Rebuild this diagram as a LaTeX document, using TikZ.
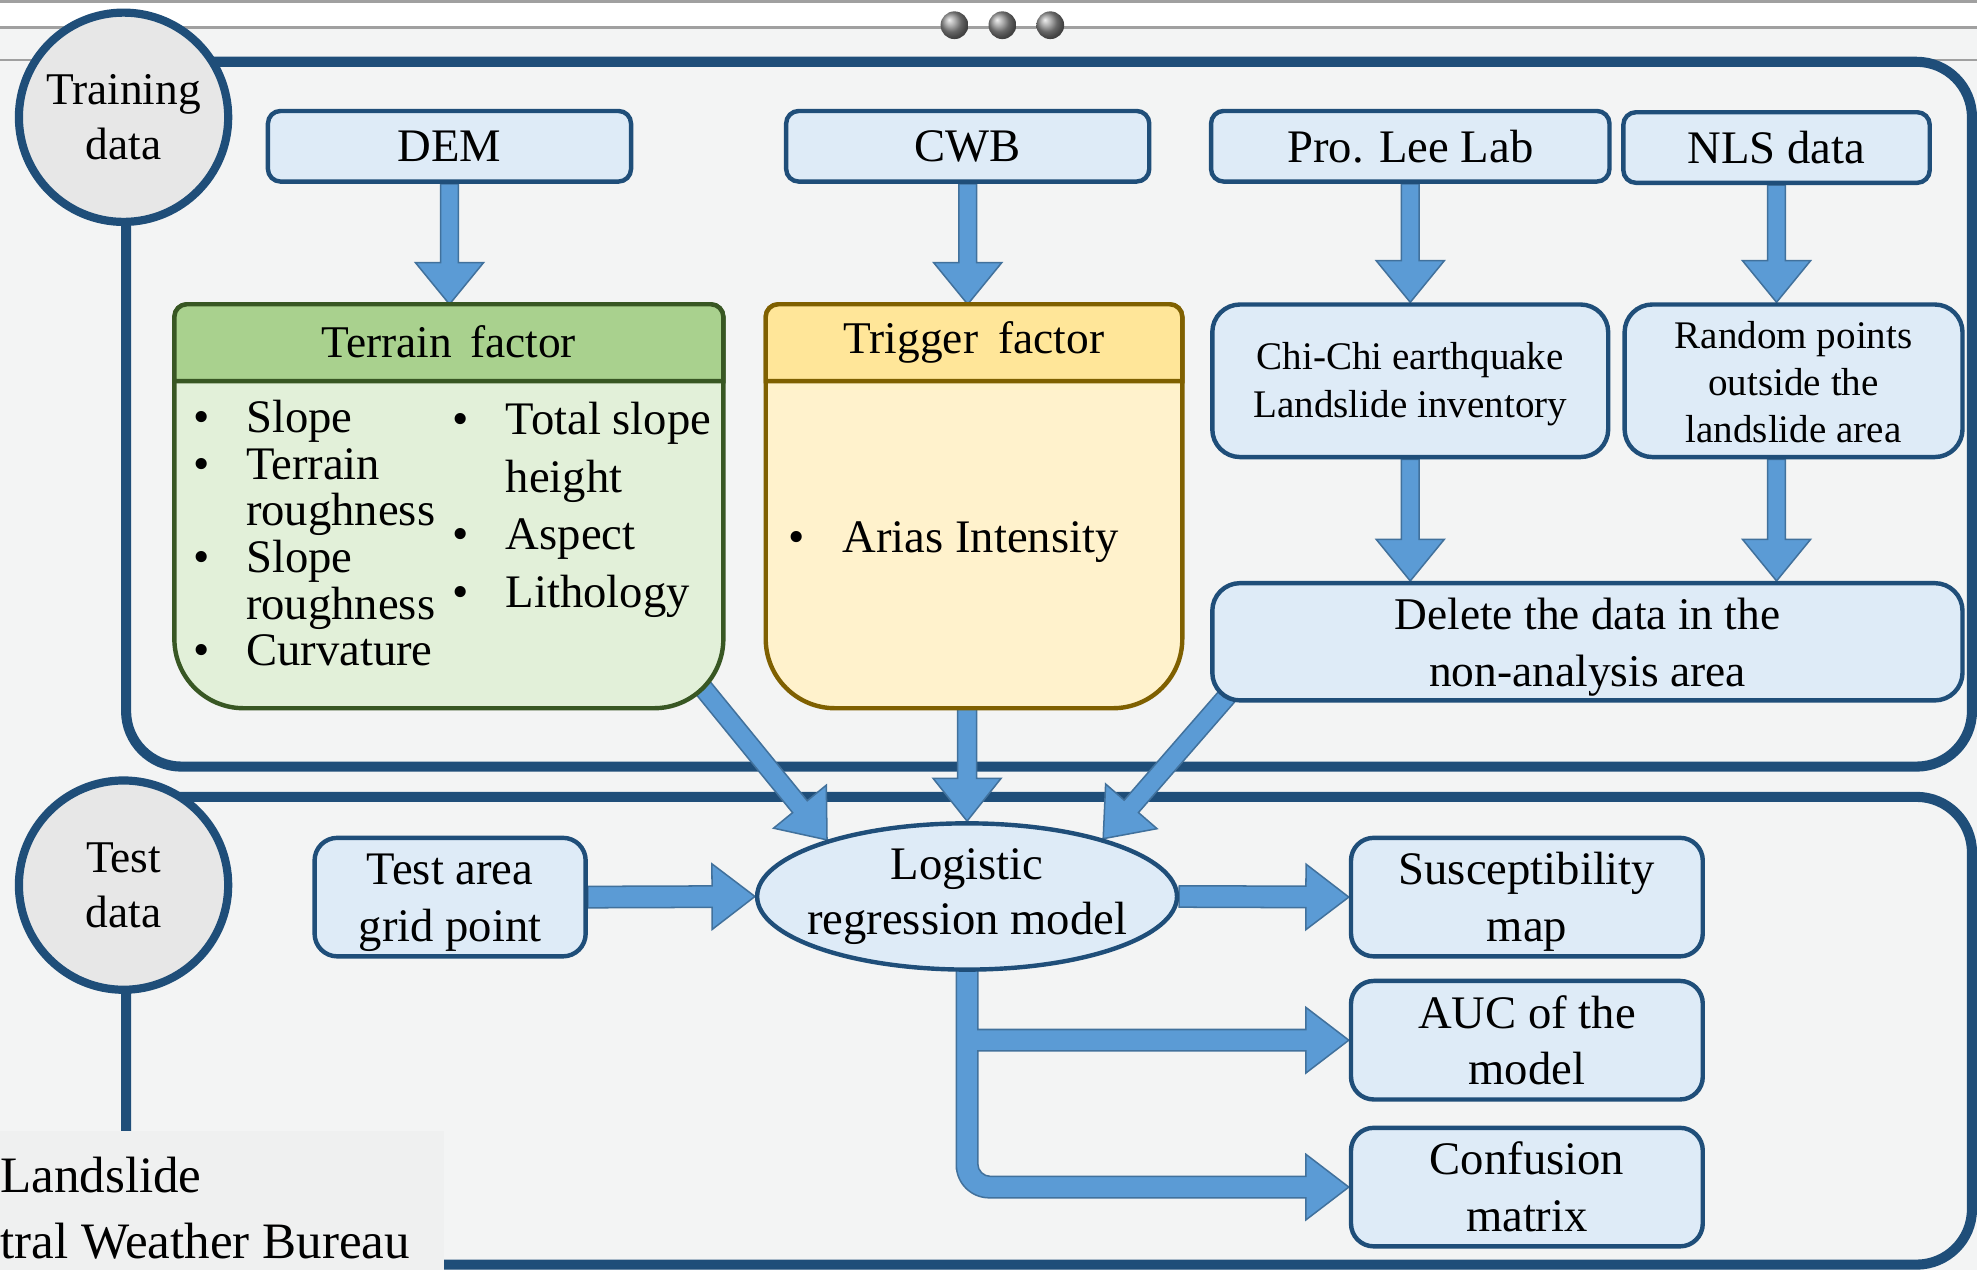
\documentclass[tikz,border=0pt]{standalone}
\usepackage{fontspec}
\setmainfont{Liberation Serif}
\usetikzlibrary{calc,shapes.geometric}
\definecolor{frameblue}{HTML}{1F4E79}
\definecolor{boxfill}{HTML}{DEEBF7}
\definecolor{arrfill}{HTML}{5B9BD5}
\definecolor{arrline}{HTML}{41719C}
\definecolor{ghead}{HTML}{A9D18E}
\definecolor{gbody}{HTML}{E2F0D9}
\definecolor{gline}{HTML}{385723}
\definecolor{yhead}{HTML}{FFE699}
\definecolor{ybody}{HTML}{FFF2CC}
\definecolor{yline}{HTML}{7F6000}
\definecolor{circfill}{HTML}{E7E7E7}
\definecolor{bgcol}{HTML}{F3F4F4}
\definecolor{legcol}{HTML}{EFF0F0}
\definecolor{rulegray}{HTML}{A0A0A0}
\pgfdeclarelayer{bglayer}
\pgfdeclarelayer{framelayer}
\pgfdeclarelayer{arrlayer}
\pgfsetlayers{bglayer,framelayer,arrlayer,main}
\tikzset{
  frameline/.style={draw=frameblue, line width=8},
  topbox/.style={draw=frameblue, fill=boxfill, line width=3.5, rounded corners=10, inner sep=0, minimum height=56, font=\fontsize{37}{44}\selectfont},
  midbox/.style={draw=frameblue, fill=boxfill, line width=3.5, rounded corners=22, inner sep=0, align=center},
  circnode/.style={circle, draw=frameblue, fill=circfill, line width=6.5, minimum size=166, inner sep=0, align=center, font=\fontsize{36}{44}\selectfont},
  headtext/.style={inner sep=0, font=\fontsize{36}{44}\selectfont},
  itemtext/.style={inner sep=0, anchor=base west, font=\fontsize{37}{44}\selectfont},
  legtext/.style={inner sep=0, anchor=base west, font=\fontsize{40.5}{52}\selectfont},
  blockarrow/.style={fill=arrfill, draw=arrline, line width=1.2},
}
\newcommand{\blkarrow}[5]{%
  \coordinate (baS) at (#1);
  \coordinate (baE) at (#2);
  \coordinate (baH) at ($(baE)!#5!(baS)$);
  \path[blockarrow] ($(baS)!#3!90:(baE)$) -- ($(baH)!#3!-90:(baS)$) -- ($(baH)!#4!-90:(baS)$) -- (baE) -- ($(baH)!#4!90:(baS)$) -- ($(baH)!#3!90:(baS)$) -- ($(baS)!#3!-90:(baE)$) -- cycle;
}
\begin{document}
\begin{tikzpicture}[x=1pt,y=-1pt]
\useasboundingbox (0,0) rectangle (1568,1007);
\begin{pgfonlayer}{bglayer}
  \fill[white] (0,0) rectangle (1568,22);
  \fill[bgcol] (0,22) rectangle (1568,1007);
  \draw[rulegray, line width=2] (0,1) -- (1568,1);
  \draw[rulegray, line width=2.5] (0,22) -- (1568,22);
  \draw[rulegray, line width=1.5] (0,47.5) -- (1568,47.5);
  \foreach \dx in {757,795,833} \shade[ball color=gray!85] (\dx,20) circle[radius=11pt];
\end{pgfonlayer}
\begin{pgfonlayer}{framelayer}
  \draw[frameline, rounded corners=44] (100,49) rectangle (1564,608);
  \draw[frameline, rounded corners=44] (100,632) rectangle (1564,1003);
\end{pgfonlayer}

% circles
\node[circnode] (traincirc) at (98,93) {Training\\data};
\node[circnode] (testcirc) at (98,702) {Test\\data};

% top row
\node[topbox, minimum width=288] (dem) at (356.5,116) {DEM};
\node[topbox, minimum width=288] (cwb) at (767.5,116) {CWB};
\node[topbox, minimum width=316] (lee) at (1118.5,116) {Pro. Lee Lab};
\node[topbox, minimum width=243] (nls) at (1409,117) {NLS data};

% terrain factor
\node[inner sep=0, minimum width=435, minimum height=320] (terrain) at (356,401.5) {};
\draw[line width=3.5, draw=gline, fill=gbody] (terrain.west) [rounded corners=10] -- (terrain.north west) -- (terrain.north east) -- (terrain.east) [rounded corners=55] -- (terrain.south east) -- (terrain.south west) -- (terrain.west) -- cycle;
\draw[line width=3.5, draw=gline, fill=ghead] ($(terrain.north west)+(0,61)$) -- ($(terrain.north west)+(0,30)$) [rounded corners=10] -- (terrain.north west) -- (terrain.north east) -- ($(terrain.north east)+(0,30)$) [sharp corners] -- ($(terrain.north east)+(0,61)$) -- cycle;
\node[headtext] (terrainhead) at ($(terrain.north)+(0,30)$) {Terrain\hspace{0.4em}factor};
\node[itemtext] (tb1) at (153.5,343) {\textbullet};
\node[itemtext] (tl1) at (195,343) {Slope};
\node[itemtext] (tb2) at (153.5,380) {\textbullet};
\node[itemtext] (tl2) at (195,380) {Terrain};
\node[itemtext] (tl3) at (195,417) {roughness};
\node[itemtext] (tb4) at (153.5,454) {\textbullet};
\node[itemtext] (tl4) at (195,454) {Slope};
\node[itemtext] (tl5) at (195,491) {roughness};
\node[itemtext] (tb6) at (153.5,528) {\textbullet};
\node[itemtext] (tl6) at (195,528) {Curvature};
\node[itemtext] (rb1) at (358.5,345) {\textbullet};
\node[itemtext] (rl1) at (401,345) {Total slope};
\node[itemtext] (rl2) at (401,391) {height};
\node[itemtext] (rb3) at (358.5,436) {\textbullet};
\node[itemtext] (rl3) at (401,436) {Aspect};
\node[itemtext] (rb4) at (358.5,482) {\textbullet};
\node[itemtext] (rl4) at (401,482) {Lithology};

% trigger factor
\node[inner sep=0, minimum width=330, minimum height=320] (trigger) at (772.5,401.5) {};
\draw[line width=3.5, draw=yline, fill=ybody] (trigger.west) [rounded corners=10] -- (trigger.north west) -- (trigger.north east) -- (trigger.east) [rounded corners=55] -- (trigger.south east) -- (trigger.south west) -- (trigger.west) -- cycle;
\draw[line width=3.5, draw=yline, fill=yhead] ($(trigger.north west)+(0,61)$) -- ($(trigger.north west)+(0,30)$) [rounded corners=10] -- (trigger.north west) -- (trigger.north east) -- ($(trigger.north east)+(0,30)$) [sharp corners] -- ($(trigger.north east)+(0,61)$) -- cycle;
\node[headtext] (triggerhead) at ($(trigger.north)+(0,30)$) {Trigger\hspace{0.45em}factor};
\node[itemtext] (gb1) at (625.5,438) {\textbullet};
\node[itemtext] (gl1) at (668,438) {Arias Intensity};

% right side training boxes
\node[midbox, minimum width=314, minimum height=121] (chichi) at (1118.5,302) {};
\node[align=center, inner sep=0, font=\fontsize{31}{38}\selectfont] (chichitext) at (1118.5,305) {Chi-Chi earthquake\\Landslide inventory};
\node[midbox, minimum width=268, minimum height=121] (random) at (1422.5,302) {};
\node[align=center, inner sep=0, font=\fontsize{31}{37.5}\selectfont] (randomtext) at (1422.5,303) {Random points\\outside the\\landslide area};
\node[midbox, minimum width=595, minimum height=93] (delete) at (1259,509) {};
\node[align=center, inner sep=0, font=\fontsize{36}{45}\selectfont] (deletetext) at (1259,513) {Delete the data in the\\non-analysis area};

% test part
\node[midbox, rounded corners=18, minimum width=215, minimum height=94] (testarea) at (357,711.5) {};
\node[align=center, inner sep=0, font=\fontsize{37}{45}\selectfont] (testareatext) at (357,716) {Test area\\grid point};
\node[ellipse, draw=frameblue, fill=boxfill, line width=3.5, minimum width=333, minimum height=116, inner sep=0] (logistic) at (767,711) {};
\node[align=center, inner sep=0, font=\fontsize{37}{44}\selectfont] (logtext) at (767,711) {Logistic\\regression model};
\node[midbox, rounded corners=18, minimum width=279, minimum height=94] (susc) at (1211,711.5) {};
\node[align=center, inner sep=0, font=\fontsize{37}{45}\selectfont] (susctext) at (1211,715) {Susceptibility\\map};
\node[midbox, rounded corners=18, minimum width=279, minimum height=94] (auc) at (1211,825) {};
\node[align=center, inner sep=0, font=\fontsize{37}{45}\selectfont] (auctext) at (1211,825) {AUC of the\\model};
\node[midbox, rounded corners=18, minimum width=279, minimum height=94] (conf) at (1211,941.5) {};
\node[align=center, inner sep=0, font=\fontsize{37}{45}\selectfont] (conftext) at (1211,941) {Confusion\\matrix};

% legend box
\node[fill=legcol, minimum width=352, minimum height=110, anchor=north west, inner sep=0] (legend) at (0,897) {};
\node[legtext] (leg1) at (0,946) {Landslide};
\node[legtext] (leg2) at (0,998) {tral Weather Bureau};

% arrows
\begin{pgfonlayer}{arrlayer}
  \blkarrow{dem.south}{dem.south |- terrain.north}{7pt}{27pt}{33pt}
  \blkarrow{cwb.south}{cwb.south |- trigger.north}{7pt}{27pt}{33pt}
  \blkarrow{lee.south}{lee.south |- chichi.north}{7pt}{27pt}{33pt}
  \blkarrow{nls.south}{nls.south |- random.north}{7pt}{27pt}{33pt}
  \blkarrow{chichi.south}{chichi.south |- delete.north}{7pt}{27pt}{33pt}
  \blkarrow{nls.south |- random.south}{nls.south |- delete.north}{7pt}{27pt}{33pt}
  \blkarrow{[xshift=-16pt,yshift=16pt]terrain.south east}{logistic.158}{7.5pt}{27pt}{34pt}
  \blkarrow{logistic.north |- trigger.south}{logistic.north}{7.5pt}{27pt}{34pt}
  \blkarrow{[xshift=16pt,yshift=8pt]delete.south west}{logistic.23}{7.5pt}{27pt}{34pt}
  \blkarrow{testarea.east}{logistic.west}{8.5pt}{26pt}{34pt}
  \blkarrow{logistic.east}{susc.west}{8.5pt}{26pt}{34pt}
  \path[blockarrow] let \p1=(logistic.south), \p2=(auc.west), \p3=(conf.west) in
    (\x1-8.5pt,\y1+3pt) -- (\x1+8.5pt,\y1+3pt) -- (\x1+8.5pt,\y2+8.5pt) -- (\x2-34pt,\y2+8.5pt) -- (\x2-34pt,\y2+26pt) -- (\x2,\y2) -- (\x2-34pt,\y2-26pt) -- (\x2-34pt,\y2-8.5pt) -- (\x1+8.5pt,\y2-8.5pt) -- (\x1+8.5pt,\y2-40pt) [rounded corners=10pt] -- (\x1+8.5pt,\y3+8.5pt) -- (\x1+40pt,\y3+8.5pt) [sharp corners] -- (\x3-34pt,\y3+8.5pt) -- (\x3-34pt,\y3+26pt) -- (\x3,\y3) -- (\x3-34pt,\y3-26pt) -- (\x3-34pt,\y3-8.5pt) -- (\x1+40pt,\y3-8.5pt) [rounded corners=26pt] -- (\x1-8.5pt,\y3-8.5pt) -- (\x1-8.5pt,\y3+40pt) [sharp corners] -- cycle;
\end{pgfonlayer}
\end{tikzpicture}
\end{document}
